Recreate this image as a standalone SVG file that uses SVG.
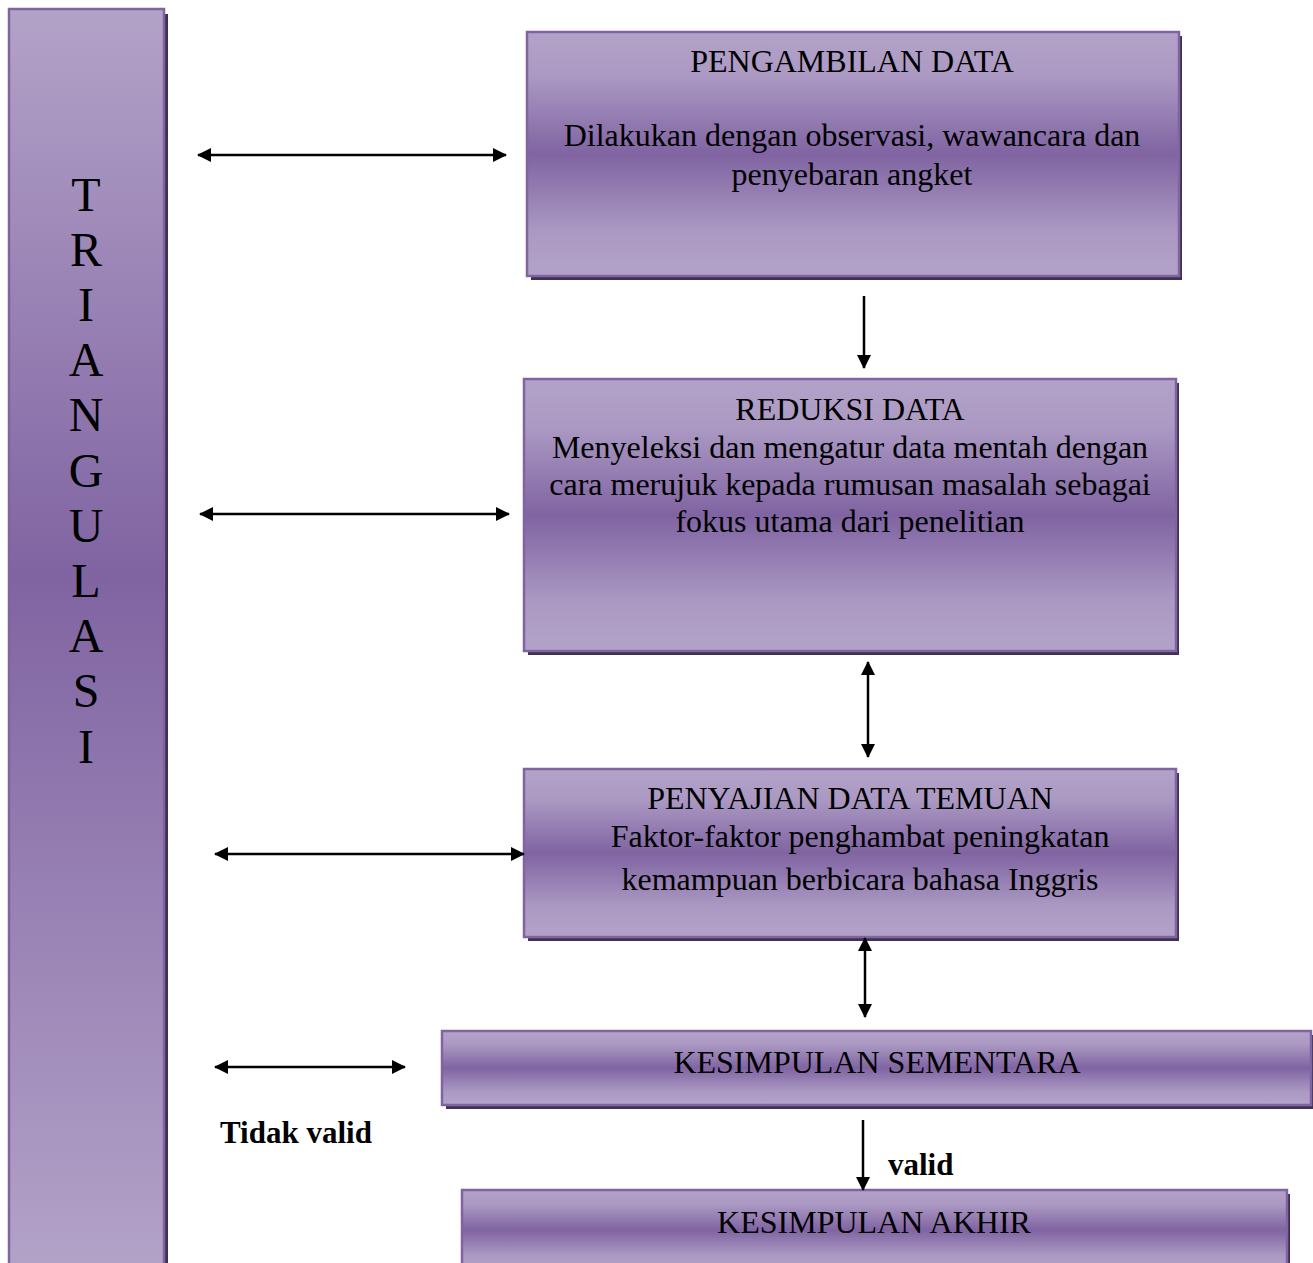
<svg xmlns="http://www.w3.org/2000/svg" width="1313" height="1263" viewBox="0 0 1313 1263">
<style>
.box{stroke:#8064a2;stroke-width:2.5}
.shadow{fill:#3f3151}
.t{font-family:"Liberation Serif","Times New Roman",serif;font-size:32px;fill:#000;text-anchor:middle}
.tri{font-family:"Liberation Serif","Times New Roman",serif;font-size:48px;fill:#000;text-anchor:middle}
.b{font-family:"Liberation Serif","Times New Roman",serif;font-size:31px;font-weight:bold;fill:#000}
.c{stroke:#000;stroke-width:2.5;fill:none}
</style>
<defs>
<linearGradient id="g" x1="0" y1="0" x2="0" y2="1">
<stop offset="0" stop-color="#b3a2c8"/>
<stop offset="0.18" stop-color="#ab99c3"/>
<stop offset="0.5" stop-color="#8064a2"/>
<stop offset="0.82" stop-color="#ab99c3"/>
<stop offset="1" stop-color="#b3a2c8"/>
</linearGradient>
<linearGradient id="gbar" x1="0" y1="0" x2="0" y2="1">
<stop offset="0" stop-color="#b3a2c8"/>
<stop offset="0.45" stop-color="#8064a2"/>
<stop offset="1" stop-color="#b3a2c8"/>
</linearGradient>
<marker id="ah" viewBox="0 0 14 14" markerWidth="14" markerHeight="14" refX="13" refY="7" orient="auto-start-reverse" markerUnits="userSpaceOnUse">
<path d="M0,0 L14,7 L0,14 Z" fill="#000"/>
</marker>
</defs>

<g id="triangulasi">
<rect class="shadow" x="12" y="14" width="156" height="1260"/>
<rect class="box" x="9" y="9" width="155" height="1260" fill="url(#gbar)"/>
<text class="tri" x="86" y="211">T</text>
<text class="tri" x="86" y="266">R</text>
<text class="tri" x="86" y="321">I</text>
<text class="tri" x="86" y="376">A</text>
<text class="tri" x="86" y="431">N</text>
<text class="tri" x="86" y="487">G</text>
<text class="tri" x="86" y="542">U</text>
<text class="tri" x="86" y="597">L</text>
<text class="tri" x="86" y="652">A</text>
<text class="tri" x="86" y="707">S</text>
<text class="tri" x="86" y="763">I</text>
</g>

<g id="pengambilan">
<rect class="shadow" x="531" y="36" width="651" height="244"/>
<rect class="box" x="527" y="32" width="652" height="244" fill="url(#g)"/>
<text class="t" x="852" y="72">PENGAMBILAN DATA</text>
<text class="t" x="852" y="146">Dilakukan dengan observasi, wawancara dan</text>
<text class="t" x="852" y="185">penyebaran angket</text>
</g>

<g id="reduksi">
<rect class="shadow" x="528" y="383" width="651" height="272"/>
<rect class="box" x="524" y="379" width="652" height="272" fill="url(#g)"/>
<text class="t" x="850" y="420">REDUKSI DATA</text>
<text class="t" x="850" y="458">Menyeleksi dan mengatur data mentah dengan</text>
<text class="t" x="850" y="495">cara merujuk kepada rumusan masalah sebagai</text>
<text class="t" x="850" y="532">fokus utama dari penelitian</text>
</g>

<g id="penyajian">
<rect class="shadow" x="528" y="773" width="651" height="168"/>
<rect class="box" x="524" y="769" width="652" height="168" fill="url(#g)"/>
<text class="t" x="850" y="809">PENYAJIAN DATA TEMUAN</text>
<text class="t" x="860" y="847">Faktor-faktor penghambat peningkatan</text>
<text class="t" x="860" y="890">kemampuan berbicara bahasa Inggris</text>
</g>

<g id="sementara">
<rect class="shadow" x="446" y="1035" width="868" height="74"/>
<rect class="box" x="442" y="1031" width="869" height="74" fill="url(#g)"/>
<text class="t" x="877" y="1073">KESIMPULAN SEMENTARA</text>
</g>

<g id="akhir">
<rect class="shadow" x="466" y="1194" width="824" height="80"/>
<rect class="box" x="462" y="1190" width="825" height="80" fill="url(#g)"/>
<text class="t" x="874" y="1233">KESIMPULAN AKHIR</text>
</g>

<g id="connectors">
<line class="c" x1="198" y1="155" x2="506" y2="155" marker-start="url(#ah)" marker-end="url(#ah)"/>
<line class="c" x1="200" y1="514" x2="509" y2="514" marker-start="url(#ah)" marker-end="url(#ah)"/>
<line class="c" x1="215" y1="854" x2="524" y2="854" marker-start="url(#ah)" marker-end="url(#ah)"/>
<line class="c" x1="215" y1="1067" x2="405" y2="1067" marker-start="url(#ah)" marker-end="url(#ah)"/>
<line class="c" x1="864" y1="296" x2="864" y2="368" marker-end="url(#ah)"/>
<line class="c" x1="868" y1="662" x2="868" y2="757" marker-start="url(#ah)" marker-end="url(#ah)"/>
<line class="c" x1="865" y1="938" x2="865" y2="1017" marker-start="url(#ah)" marker-end="url(#ah)"/>
<line class="c" x1="863" y1="1120" x2="863" y2="1190" marker-end="url(#ah)"/>
<text class="b" x="220" y="1143">Tidak valid</text>
<text class="b" x="888" y="1175">valid</text>
</g>
</svg>
